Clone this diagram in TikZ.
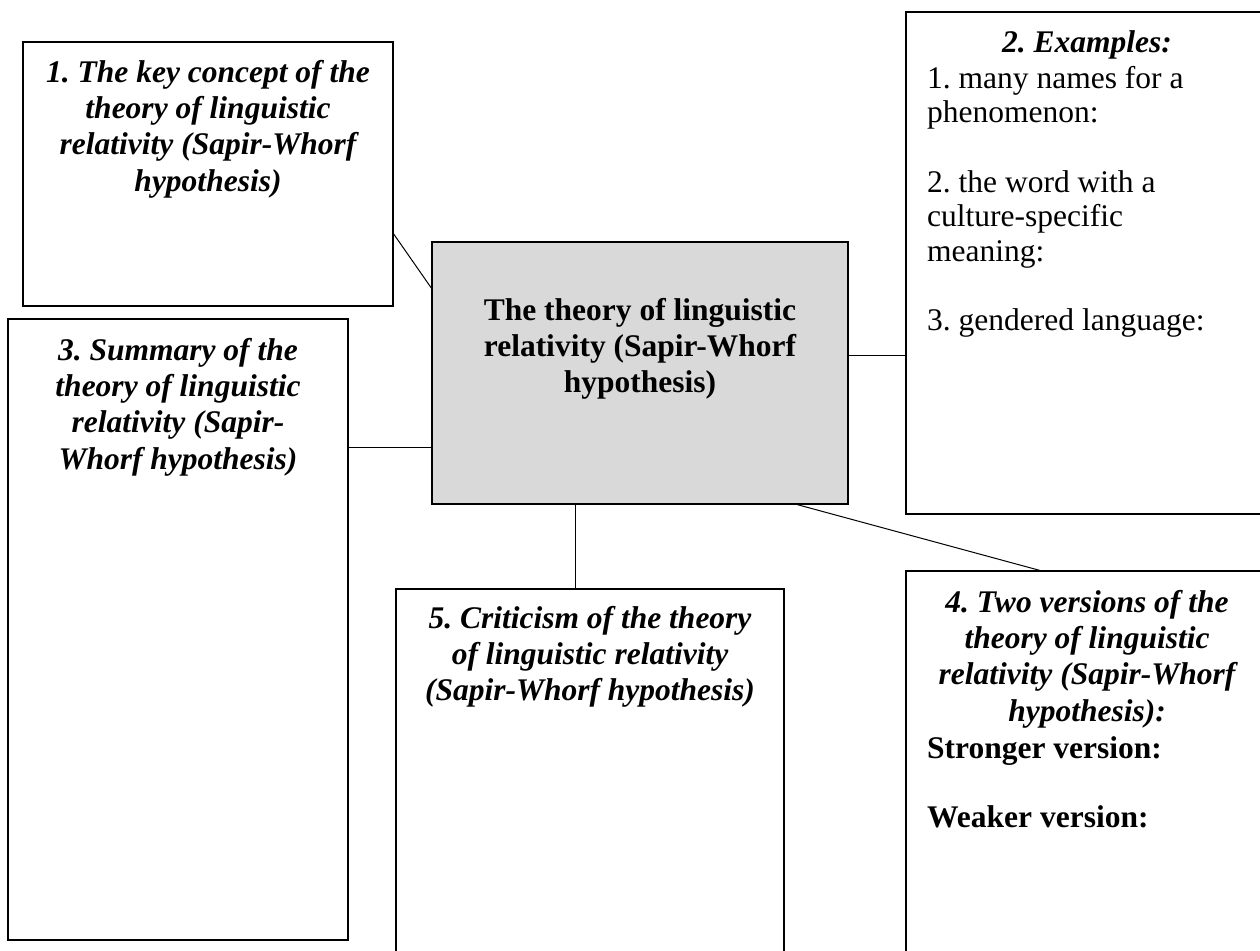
\documentclass[tikz,border=0pt]{standalone}
\usepackage{fontspec}
\setmainfont{Liberation Serif}
\definecolor{hubgray}{RGB}{217,217,217}
\begin{document}
\frenchspacing
\begin{tikzpicture}[x=1pt,y=-1pt,
  panel/.style={draw=black, line width=1.2pt, inner sep=0pt, outer sep=0pt, anchor=north west},
  hub/.style={panel, fill=hubgray},
  link/.style={draw=black, line width=1pt},
  heading/.style={inner sep=0pt, anchor=north, align=center,
    font=\fontsize{31.5}{36.3}\selectfont\bfseries\itshape},
  hubtext/.style={heading, font=\fontsize{31.5}{36.3}\selectfont\bfseries},
  bodytext/.style={inner sep=0pt, anchor=north west, align=left,
    font=\fontsize{31.5}{34.6}\selectfont},
  boldtext/.style={bodytext, font=\fontsize{31.5}{34.6}\selectfont\bfseries}]
\useasboundingbox (0,0) rectangle (1260,950);
\clip (0,0) rectangle (1260,950);
\fill[white] (0,0) rectangle (1260,950);

% boxes
\node[panel, minimum width=370pt, minimum height=264pt] (b1) at (23,42) {};
\node[panel, minimum width=340pt, minimum height=621pt] (b3) at (8,319) {};
\node[hub,   minimum width=416pt, minimum height=262pt] (c)  at (432,242) {};
\node[panel, minimum width=370pt, minimum height=502pt] (b2) at (906,12) {};
\node[panel, minimum width=388pt, minimum height=380pt] (b5) at (396,589) {};
\node[panel, minimum width=370pt, minimum height=400pt] (b4) at (906,571) {};

% connectors
\draw[link] ([yshift=-59pt]b1.east) -- ([yshift=84pt]c.west);
\draw[link] ([yshift=182.5pt]b3.east) -- ([yshift=-74pt]c.west);
\draw[link] ([yshift=18pt]c.east) -- ([yshift=-92pt]b2.west);
\draw[link] ([xshift=-65pt]c.south) -- ([xshift=-15pt]b5.north);
\draw[link] ([xshift=155pt]c.south) -- ([xshift=-49pt]b4.north);

% texts
\node[heading] (t1) at (208,60) {1. The key concept of the\\theory of linguistic\\relativity (Sapir-Whorf\\hypothesis)};
\node[heading] (t3) at (178,338) {3. Summary of the\\theory of linguistic\\relativity (Sapir-\\Whorf hypothesis)};
\node[hubtext] (tc) at (640,298) {The theory of linguistic\\relativity (Sapir-Whorf\\hypothesis)};
\node[heading] (t2h) at (1087,30) {2. Examples:};
\node[bodytext] (t2) at (927,66) {1. many names for a\\phenomenon:\\[34.6pt]2. the word with a\\culture-specific\\meaning:\\[34.6pt]3. gendered language:};
\node[heading] (t5) at (590,606) {5. Criticism of the theory\\of linguistic relativity\\(Sapir-Whorf hypothesis)};
\node[heading] (t4h) at (1087,590) {4. Two versions of the\\theory of linguistic\\relativity (Sapir-Whorf\\hypothesis):};
\node[boldtext] (t4) at (927,736) {Stronger version:\\[34.6pt]Weaker version:};
\end{tikzpicture}
\end{document}
